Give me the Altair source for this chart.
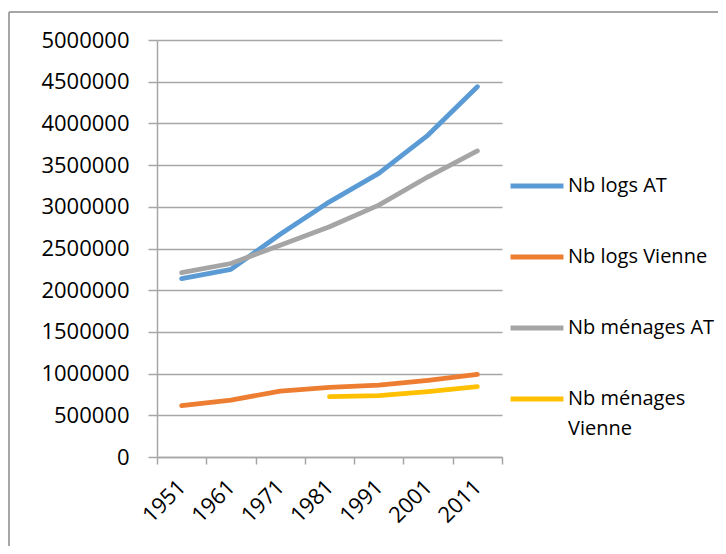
import altair as alt
import pandas as pd

years = ["1951", "1961", "1971", "1981", "1991", "2001", "2011"]
series_names = ["Nb logs AT", "Nb logs Vienne", "Nb ménages AT", "Nb ménages Vienne"]
colors = ["#5B9BD5", "#ED7D31", "#A5A5A5", "#FFC000"]

logs_at = [2140000, 2250000, 2670000, 3060000, 3400000, 3860000, 4440000]
logs_vienne = [615000, 683000, 790000, 835000, 863000, 920000, 990000]
menages_at = [2210000, 2320000, 2540000, 2760000, 3020000, 3360000, 3670000]
menages_vienne = [None, None, None, 723000, 735000, 783000, 843000]

rows = []
for name, vals in zip(series_names, [logs_at, logs_vienne, menages_at, menages_vienne]):
    for y, v in zip(years, vals):
        if v is not None:
            rows.append({"year": y, "series": name, "value": v})
df = pd.DataFrame(rows)

FONT = "Open Sans"
W, H = 345, 417
PL, PT = 149, 32
PR = 710 - PL - W
PB = 538 - PT - H

lines = alt.Chart(df).mark_line(strokeWidth=4.8, strokeCap="round", strokeJoin="round").encode(
    x=alt.X("year:O", sort=years, title=None,
            scale=alt.Scale(paddingInner=0, paddingOuter=0),
            axis=alt.Axis(labelAngle=-45, tickBand="extent", tickSize=7, labelPadding=12,
                          labelOffset=-7, labelAlign="right", labelBaseline="top", grid=False)),
    y=alt.Y("value:Q", title=None,
            scale=alt.Scale(domain=[0, 5000000], nice=False),
            axis=alt.Axis(values=list(range(0, 5000001, 500000)), format="d",
                          tickSize=9, labelPadding=19, grid=True)),
    color=alt.Color("series:N", sort=series_names,
                    scale=alt.Scale(domain=series_names, range=colors),
                    legend=alt.Legend(title=None, orient="none", legendX=351, legendY=117,
                                      symbolType="stroke", symbolSize=2800,
                                      symbolStrokeWidth=4.8, labelFontSize=20,
                                      labelFont=FONT, labelColor="#000000",
                                      rowPadding=32, labelOffset=2, labelLimit=200,
                                      labelExpr="datum.label == 'Nb ménages Vienne' ? ['Nb ménages', 'Vienne'] : datum.label")),
)

border_top = alt.Chart(df).mark_rule(color="#a6a6a6", strokeWidth=1.5).encode(
    x=alt.value(-148), x2=alt.value(726), y=alt.value(-28))
border_left = alt.Chart(df).mark_rule(color="#a6a6a6", strokeWidth=1.5).encode(
    x=alt.value(-148), y=alt.value(-28), y2=alt.value(560))

chart = alt.layer(border_top, border_left, lines).properties(
    width=W, height=H,
    autosize=alt.AutoSizeParams(type="none"),
    padding={"left": PL, "top": PT, "right": PR, "bottom": PB},
).configure(
    view=alt.ViewConfig(stroke=None),
    axis=alt.AxisConfig(
        domainColor="#a6a6a6", tickColor="#a6a6a6", gridColor="#a6a6a6",
        domainWidth=1.5, tickWidth=1.5, gridWidth=1.5,
        labelFont=FONT, labelFontSize=22, labelColor="#000000"),
    style={"guide-label": {"lineHeight": 30}},
)

chart.save("out.html", embed_options={"renderer": "svg", "actions": False})
